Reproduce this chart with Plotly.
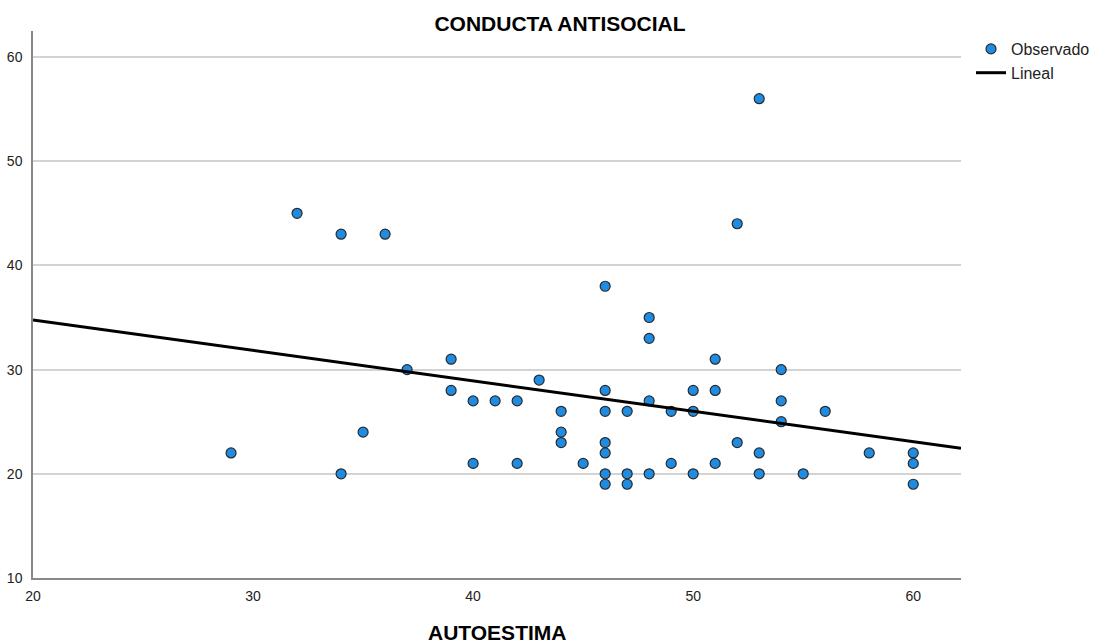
import plotly.graph_objects as go

# Observed points (AUTOESTIMA, CONDUCTA ANTISOCIAL)
autoestima = [29, 32, 34, 34, 35, 36, 37, 39, 39, 40, 40, 41, 42, 42, 43,
              44, 44, 44, 45, 46, 46, 46, 46, 46, 46, 46, 47, 47, 47,
              48, 48, 48, 48, 49, 49, 50, 50, 50, 51, 51, 51, 52, 52,
              53, 53, 53, 54, 54, 54, 55, 56, 58, 60, 60, 60]
conducta = [22, 45, 43, 20, 24, 43, 30, 31, 28, 27, 21, 27, 27, 21, 29,
            26, 24, 23, 21, 38, 28, 26, 23, 22, 20, 19, 26, 20, 19,
            35, 33, 27, 20, 26, 21, 28, 26, 20, 31, 28, 21, 44, 23,
            56, 22, 20, 30, 27, 25, 20, 26, 22, 22, 21, 19]

# Linear fit
fit_intercept = 40.6
fit_slope = -0.292

x_range = [20, 62.17]
y_range = [10, 62.5]
x_ticks = [20, 30, 40, 50, 60]
y_ticks = [10, 20, 30, 40, 50, 60]

lineal_x = x_range
lineal_y = [fit_intercept + fit_slope * v for v in lineal_x]

W, H = 1094, 643
L, R, T, B = 33, 961, 31, 578

fig = go.Figure()
fig.add_trace(go.Scatter(
    x=autoestima, y=conducta, mode="markers", name="Observado",
    marker=dict(size=10, color="#1e8ce2", line=dict(color="#2a2a2a", width=1.2)),
    cliponaxis=False,
))
fig.add_trace(go.Scatter(
    x=lineal_x, y=lineal_y, mode="lines", name="Lineal",
    line=dict(color="black", width=3),
))

fig.update_layout(
    width=W, height=H, autosize=False,
    margin=dict(l=L, r=W - R, t=T, b=H - B, pad=0, autoexpand=False),
    plot_bgcolor="white", paper_bgcolor="white",
    font=dict(family="Arial, Liberation Sans, sans-serif", size=14, color="#222222"),
    title=dict(text="<b>CONDUCTA ANTISOCIAL</b>", x=560 / W, xref="container",
               xanchor="center", y=1 - 23.5 / H, yref="container", yanchor="middle",
               font=dict(size=21, color="black")),
    showlegend=True,
    legend=dict(xref="container", yref="container", x=971 / W, xanchor="left",
                y=1 - 32 / H, yanchor="top",
                font=dict(family="Arial, Liberation Sans, sans-serif", size=16,
                          color="#222222"),
                bgcolor="rgba(0,0,0,0)", tracegroupgap=0, itemwidth=30),
    annotations=[dict(text="<b>AUTOESTIMA</b>", x=(497 - L) / (R - L), y=-(632 - B) / (B - T),
                      xref="paper", yref="paper", xanchor="center", yanchor="middle",
                      showarrow=False, font=dict(size=21, color="black"))],
)
fig.update_xaxes(range=x_range, tickvals=x_ticks, showgrid=False, zeroline=False,
                 showline=True, linecolor="#888888", linewidth=1.5, ticks="",
                 ticklabelstandoff=4, automargin=False,
                 tickfont=dict(size=14, color="#222222"))
fig.update_yaxes(range=y_range, tickvals=y_ticks, showgrid=True, gridcolor="#d3d3d3",
                 gridwidth=2, zeroline=False, showline=True, linecolor="#888888",
                 linewidth=1.5, ticks="", ticklabelstandoff=6, automargin=False,
                 tickfont=dict(size=14, color="#222222"))

fig.write_html("out.html", config={"displayModeBar": False},
               post_script="document.body.style.margin='0';")
